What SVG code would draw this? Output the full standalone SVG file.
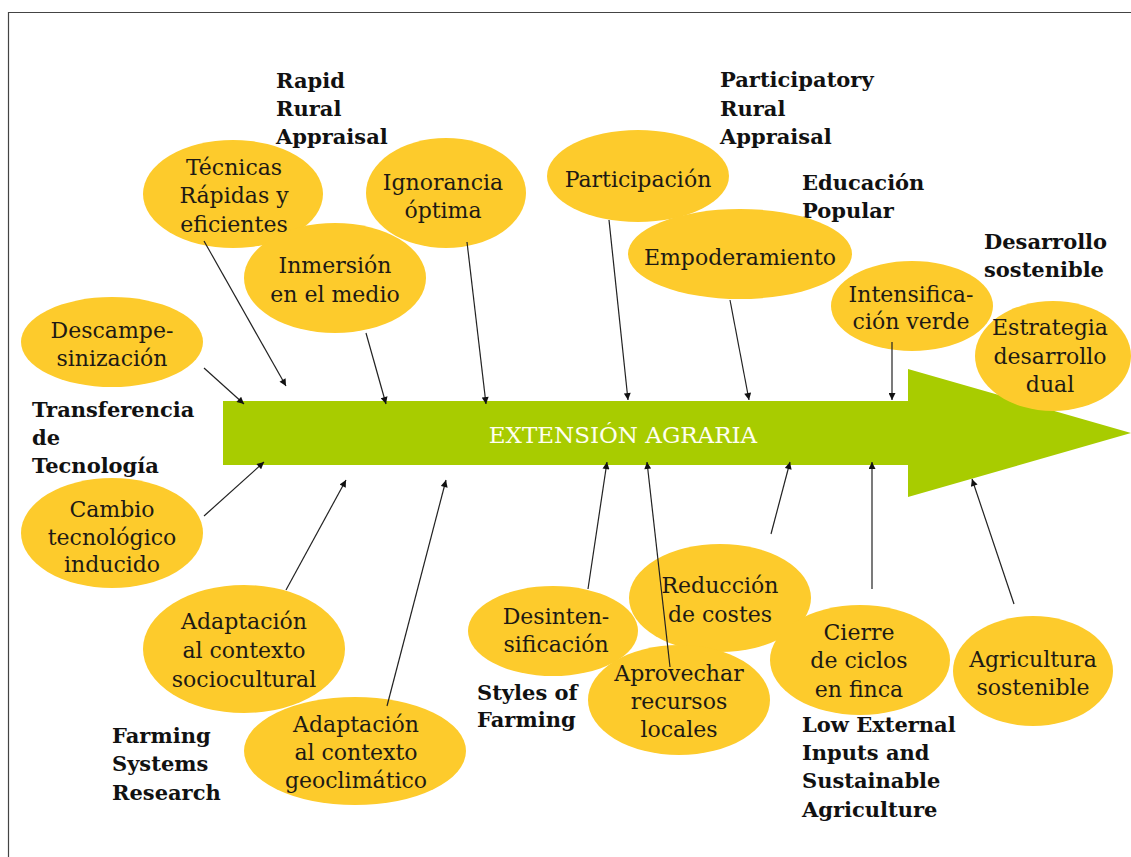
<svg xmlns="http://www.w3.org/2000/svg" width="1131" height="857" viewBox="0 0 1131 857">
<style>
.bg{fill:#ffffff}
.frame{fill:none;stroke:#444;stroke-width:1.2}
.node ellipse{fill:#FDCB2C}
.nt{font-family:"DejaVu Serif","Liberation Serif",serif;font-size:22px;fill:#1e1a14;text-anchor:middle}
.lbl{font-family:"DejaVu Serif","Liberation Serif",serif;font-size:21px;font-weight:bold;fill:#111}
.big{fill:#A8CC00}
.bigt{font-family:"DejaVu Serif","Liberation Serif",serif;font-size:23px;fill:#FFFFF0;text-anchor:middle}
.conn line{stroke:#222;stroke-width:1.2;marker-end:url(#ah)}
</style>
<defs>
<marker id="ah" viewBox="0 0 10 10" refX="10" refY="5" markerWidth="9" markerHeight="7" markerUnits="userSpaceOnUse" orient="auto">
<path d="M0,0 L10,5 L0,10 z" fill="#111"/>
</marker>
</defs>
<rect class="bg" x="0" y="0" width="1131" height="857"/>
<path class="frame" d="M8.5,857 V12.5 H1131"/>

<g id="extension">
<polygon class="big" points="223,401 908,401 908,369 1131,433 908,497 908,465 223,465"/>
<text class="bigt" x="623" y="443">EXTENSIÓN AGRARIA</text>
</g>

<g id="labels">
<text class="lbl" x="276" y="88">Rapid</text>
<text class="lbl" x="276" y="116">Rural</text>
<text class="lbl" x="276" y="144">Appraisal</text>
<text class="lbl" x="720" y="87">Participatory</text>
<text class="lbl" x="720" y="116">Rural</text>
<text class="lbl" x="720" y="144">Appraisal</text>
<text class="lbl" x="802" y="190">Educación</text>
<text class="lbl" x="802" y="218">Popular</text>
<text class="lbl" x="984" y="249">Desarrollo</text>
<text class="lbl" x="984" y="277">sostenible</text>
<text class="lbl" x="32" y="417">Transferencia</text>
<text class="lbl" x="32" y="445">de</text>
<text class="lbl" x="32" y="473">Tecnología</text>
<text class="lbl" x="112" y="743">Farming</text>
<text class="lbl" x="112" y="771">Systems</text>
<text class="lbl" x="112" y="800">Research</text>
<text class="lbl" x="477" y="700">Styles of</text>
<text class="lbl" x="477" y="727">Farming</text>
<text class="lbl" x="802" y="732">Low External</text>
<text class="lbl" x="802" y="760">Inputs and</text>
<text class="lbl" x="802" y="788">Sustainable</text>
<text class="lbl" x="802" y="817">Agriculture</text>
</g>

<g id="n-tecnicas" class="node"><ellipse cx="233" cy="194" rx="90" ry="54"/>
<text class="nt" x="234" y="175">Técnicas</text><text class="nt" x="234" y="203">Rápidas y</text><text class="nt" x="234" y="232">eficientes</text></g>
<g id="n-inmersion" class="node"><ellipse cx="335" cy="278" rx="91" ry="55"/>
<text class="nt" x="335" y="273">Inmersión</text><text class="nt" x="335" y="302">en el medio</text></g>
<g id="n-ignorancia" class="node"><ellipse cx="446" cy="193" rx="80" ry="55"/>
<text class="nt" x="443" y="190">Ignorancia</text><text class="nt" x="443" y="218">óptima</text></g>
<g id="n-descamp" class="node"><ellipse cx="112" cy="342" rx="91" ry="45"/>
<text class="nt" x="112" y="338">Descampe-</text><text class="nt" x="112" y="366">sinización</text></g>
<g id="n-participacion" class="node"><ellipse cx="638" cy="176" rx="91" ry="46"/>
<text class="nt" x="638" y="187">Participación</text></g>
<g id="n-empoderamiento" class="node"><ellipse cx="740" cy="254" rx="112" ry="45"/>
<text class="nt" x="740" y="265">Empoderamiento</text></g>
<g id="n-intensificacion" class="node"><ellipse cx="912" cy="306" rx="81" ry="45"/>
<text class="nt" x="911" y="302">Intensifica-</text><text class="nt" x="911" y="329">ción verde</text></g>
<g id="n-estrategia" class="node"><ellipse cx="1053" cy="356" rx="78" ry="55"/>
<text class="nt" x="1050" y="335">Estrategia</text><text class="nt" x="1050" y="364">desarrollo</text><text class="nt" x="1050" y="392">dual</text></g>
<g id="n-cambio" class="node"><ellipse cx="112" cy="533" rx="91" ry="55"/>
<text class="nt" x="112" y="517">Cambio</text><text class="nt" x="112" y="545">tecnológico</text><text class="nt" x="112" y="572">inducido</text></g>
<g id="n-sociocultural" class="node"><ellipse cx="244" cy="649" rx="101" ry="64"/>
<text class="nt" x="244" y="629">Adaptación</text><text class="nt" x="244" y="658">al contexto</text><text class="nt" x="244" y="687">sociocultural</text></g>
<g id="n-geoclimatico" class="node"><ellipse cx="355" cy="751" rx="111" ry="54"/>
<text class="nt" x="356" y="732">Adaptación</text><text class="nt" x="356" y="760">al contexto</text><text class="nt" x="356" y="788">geoclimático</text></g>
<g id="n-desintens" class="node"><ellipse cx="553" cy="631" rx="85" ry="45"/>
<text class="nt" x="556" y="624">Desinten-</text><text class="nt" x="556" y="652">sificación</text></g>
<g id="n-reduccion" class="node"><ellipse cx="720" cy="598" rx="91" ry="54"/>
<text class="nt" x="720" y="593">Reducción</text><text class="nt" x="720" y="622">de costes</text></g>
<g id="n-aprovechar" class="node"><ellipse cx="679" cy="700" rx="91" ry="55"/>
<text class="nt" x="679" y="681">Aprovechar</text><text class="nt" x="679" y="709">recursos</text><text class="nt" x="679" y="737">locales</text></g>
<g id="n-cierre" class="node"><ellipse cx="860" cy="660" rx="90" ry="55"/>
<text class="nt" x="859" y="640">Cierre</text><text class="nt" x="859" y="668">de ciclos</text><text class="nt" x="859" y="697">en finca</text></g>
<g id="n-agricultura" class="node"><ellipse cx="1033" cy="671" rx="80" ry="55"/>
<text class="nt" x="1033" y="667">Agricultura</text><text class="nt" x="1033" y="695">sostenible</text></g>

<g id="connectors" class="conn">
<line x1="204" y1="241" x2="286" y2="386"/>
<line x1="204" y1="368" x2="244" y2="404"/>
<line x1="366" y1="333" x2="386" y2="404"/>
<line x1="467" y1="242" x2="486" y2="404"/>
<line x1="609" y1="220" x2="628" y2="400"/>
<line x1="730" y1="300" x2="749" y2="400"/>
<line x1="892" y1="342" x2="892" y2="400"/>
<line x1="204" y1="516" x2="264" y2="462"/>
<line x1="286" y1="590" x2="346" y2="480"/>
<line x1="387" y1="706" x2="446" y2="480"/>
<line x1="588" y1="589" x2="607" y2="462"/>
<line x1="670" y1="667" x2="647" y2="462"/>
<line x1="771" y1="534" x2="790" y2="462"/>
<line x1="872" y1="589" x2="872" y2="462"/>
<line x1="1014" y1="604" x2="972" y2="479"/>
</g>
</svg>
